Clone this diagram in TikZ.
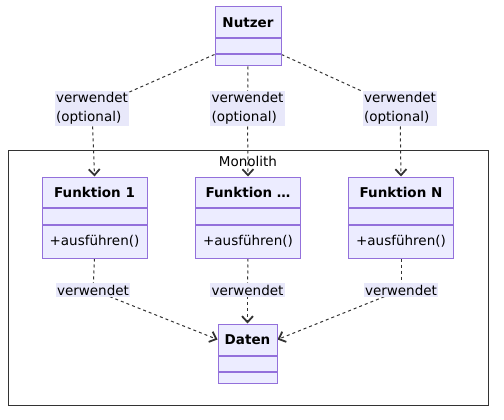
\documentclass[tikz,border=0pt]{standalone}
\usepackage{fontspec}
\setmainfont{DejaVu Sans}
\usetikzlibrary{positioning,arrows.meta,backgrounds}

\definecolor{klassfill}{HTML}{ECECFF}
\definecolor{klassrand}{HTML}{9370DB}
\definecolor{kante}{HTML}{333333}
\definecolor{labelbg}{RGB}{232,232,250}

\tikzset{
  kopf/.style={draw=klassrand, fill=klassfill, line width=1pt, inner sep=0pt,
    minimum height=31pt, font=\fontsize{13.5}{15}\selectfont\bfseries},
  fach/.style={draw=klassrand, fill=klassfill, line width=1pt, inner sep=0pt,
    font=\fontsize{13.5}{16}\selectfont},
  pfeil/.style={draw=kante, line width=1pt, dash pattern=on 3pt off 3pt,
    -{Straight Barb[length=6pt,width=11pt,line width=1.8pt]}},
  linie/.style={draw=kante, line width=1pt, dash pattern=on 3pt off 3pt},
  beschr/.style={fill=labelbg, inner sep=1.5pt, align=left,
    font=\fontsize{13.5}{18.5}\selectfont},
}

\begin{document}
\begin{tikzpicture}[x=1pt,y=-1pt]
\useasboundingbox (0,0) rectangle (504,420);

\draw[kante, line width=1pt] (8,150) rectangle (488,405);
\node[font=\fontsize{13.5}{16}\selectfont] (mono) at (248,161) {Monolith};

% Nutzer
\node[kopf, minimum width=66pt] (nutzer) at (248,22.5) {Nutzer};
\node[fach, minimum width=66pt, minimum height=15pt, below=0pt of nutzer] (nutzer-a) {};
\node[fach, minimum width=66pt, minimum height=11pt, below=0pt of nutzer-a] (nutzer-m) {};

% Funktionen
\foreach \nm/\x/\titel in {f1/94.5/Funktion 1, f2/248/Funktion \dots, fn/401/Funktion N}{
  \node[kopf, minimum width=105pt, minimum height=30pt] (\nm) at (\x,192) {\titel};
  \node[fach, minimum width=105pt, minimum height=16pt, below=0pt of \nm] (\nm-a) {};
  \node[fach, minimum width=105pt, minimum height=33pt, below=0pt of \nm-a] (\nm-m) {+ausführen()};
}

% Daten
\node[kopf, minimum width=59pt] (daten) at (247.5,339.5) {Daten};
\node[fach, minimum width=59pt, minimum height=15pt, below=0pt of daten] (daten-a) {};
\node[fach, minimum width=59pt, minimum height=11pt, below=0pt of daten-a] (daten-m) {};

% Beschriftungen
\node[beschr] (l1) at (92,108.5) {verwendet\\(optional)};
\node[beschr] (l2) at (247.5,108.5) {verwendet\\(optional)};
\node[beschr] (l3) at (400,108.5) {verwendet\\(optional)};
\node[beschr] (u1) at (93,290) {verwendet};
\node[beschr] (u2) at (247.5,290) {verwendet};
\node[beschr] (u3) at (401,290) {verwendet};

% Kanten
\begin{pgfonlayer}{background}
\draw[linie] (nutzer-a.south west) -- (l1.center);
\draw[linie] (nutzer-m.south) -- (l2.center);
\draw[linie] (nutzer-a.south east) -- (l3.center);
\draw[pfeil] (l1.center) -- (f1.north);
\draw[pfeil] (l2.center) -- (f2.north);
\draw[pfeil] (l3.center) -- (fn.north);
\draw[linie] (f1-m.south) -- (u1.center);
\draw[linie] (f2-m.south) -- (u2.center);
\draw[linie] (fn-m.south) -- (u3.center);
\draw[pfeil] (u1.center) -- (daten.west);
\draw[pfeil] (u2.center) -- (daten.north);
\draw[pfeil] (u3.center) -- (daten.east);
\end{pgfonlayer}

\end{tikzpicture}
\end{document}
